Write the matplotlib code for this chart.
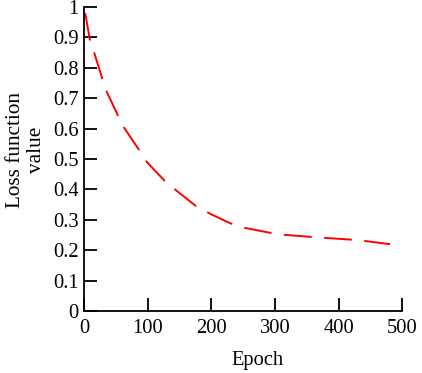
import matplotlib
matplotlib.use('Agg')
import matplotlib.pyplot as plt

# values
epochs = [2, 9, 16, 28, 36, 53, 64, 85, 99, 127, 143, 175, 200, 231,
          252, 294, 314, 357, 377, 420, 440, 481]
loss = [0.98, 0.895, 0.85, 0.77, 0.72, 0.645, 0.60, 0.535, 0.49, 0.428,
        0.40, 0.347, 0.318, 0.288, 0.274, 0.257, 0.251, 0.244, 0.241,
        0.235, 0.231, 0.22]

x_ticks = [0, 100, 200, 300, 400, 500]
y_ticks = [0, 0.1, 0.2, 0.3, 0.4, 0.5, 0.6, 0.7, 0.8, 0.9, 1]
y_tick_labels = ['0', '0.1', '0.2', '0.3', '0.4', '0.5', '0.6', '0.7',
                 '0.8', '0.9', '1']

plt.rcParams['font.family'] = 'Liberation Serif'
plt.rcParams['lines.scale_dashes'] = False

fig = plt.figure(figsize=(4.22, 3.73), dpi=100)
ax = fig.add_axes([0.199, 0.166, 0.754, 0.815])

ax.plot(epochs, loss, color='#ff0000', lw=1.4, dashes=(20, 9))

ax.set_xlim(0, 500)
ax.set_ylim(0, 1)
ax.set_xticks(x_ticks)
ax.set_yticks(y_ticks)
ax.set_yticklabels(y_tick_labels)

for s in ['top', 'right']:
    ax.spines[s].set_visible(False)
for s in ['left', 'bottom']:
    ax.spines[s].set_linewidth(1.3)

ax.tick_params(direction='in', length=9.5, width=1.3, labelsize=14.8)
ax.tick_params(axis='x', pad=6)
ax.tick_params(axis='y', pad=4)

ax.set_xlabel('Epoch', fontsize=14.8)
ax.xaxis.set_label_coords(0.547, -0.161)
ax.xaxis.label.set_va('center')
ax.set_ylabel('Loss function\nvalue', fontsize=15.3, linespacing=1.15)
ax.yaxis.set_label_coords(-0.182, 0.53)
ax.yaxis.label.set_va('center')

fig.savefig('out.png', dpi=100, facecolor='white')
